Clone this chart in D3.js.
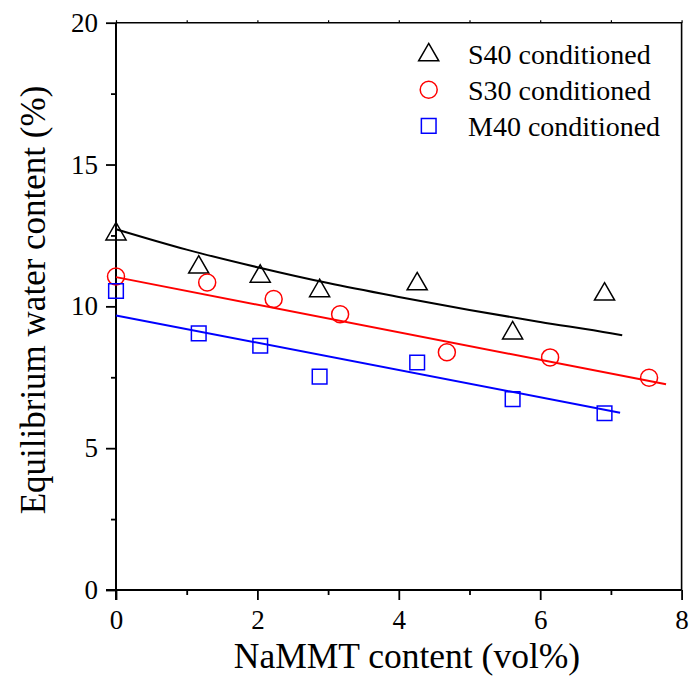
<!DOCTYPE html>
<html>
<head>
<meta charset="utf-8">
<script src="https://cdn.jsdelivr.net/npm/d3@7"></script>
<style>
 body { margin:0; background:#fff; }
 text { font-family: "Liberation Serif", "Times New Roman", serif; fill:#000; }
</style>
</head>
<body>
<div id="chart"></div>
<script>
// measured points
var s40X = [0, 1.17, 2.04, 2.88, 4.26, 5.61, 6.91];
var s40Y = [12.6, 11.43, 11.11, 10.6, 10.84, 9.11, 10.48];
var s30X = [0, 1.29, 2.23, 3.17, 4.68, 6.14, 7.54];
var s30Y = [11.05, 10.84, 10.26, 9.72, 8.38, 8.2, 7.48];
var m40X = [0, 1.17, 2.04, 2.88, 4.26, 5.61, 6.91];
var m40Y = [10.54, 9.05, 8.61, 7.52, 8.02, 6.73, 6.23];

// fitted lines
var s40FitX = [0, 1, 2, 3, 4, 5, 6, 7, 7.16];
var s40FitY = [12.72, 12.0, 11.38, 10.82, 10.33, 9.87, 9.45, 9.05, 8.98];
var s30FitX = [0, 7.78];
var s30FitY = [11.03, 7.25];
var m40FitX = [0, 7.13];
var m40FitY = [9.68, 6.25];

var legendNames = ["S40 conditioned", "S30 conditioned", "M40 conditioned"];
var xTicks = [0, 2, 4, 6, 8];
var xMinor = [1, 3, 5, 7];
var yTicks = [0, 5, 10, 15, 20];
var yMinor = [2.5, 7.5, 12.5, 17.5];

var width = 691, height = 678;
var pLeft = 116, pTop = 22.7, pRight = 681.6, pBottom = 590;

var svg = d3.select('#chart').append('svg')
  .attr('width', width)
  .attr('height', height);

var x = d3.scaleLinear().domain([0, 8]).range([pLeft, pRight]);
var y = d3.scaleLinear().domain([0, 20]).range([pBottom, pTop]);

function styleAxis(g, w){
  g.attr('font-size', null).attr('font-family', null);
  g.select('.domain').remove();
  g.selectAll('line').attr('stroke-width', w);
  g.selectAll('text').style('font-size', '27px').style('font-family', '"Liberation Serif", serif');
}

// frame top / right
svg.append('path')
  .attr('d', 'M' + pLeft + ',' + pTop + 'H' + pRight + 'V' + pBottom)
  .attr('fill', 'none').attr('stroke', '#000').attr('stroke-width', 1.6);

// tiny ticks on the top
svg.append('g').attr('transform', 'translate(0,' + pTop + ')')
  .call(d3.axisTop(x).tickValues(d3.merge([xTicks, xMinor])).tickSize(2.5).tickFormat(''))
  .call(styleAxis, 1.2);

// x axis
svg.append('g').attr('transform', 'translate(0,' + pBottom + ')')
  .call(d3.axisBottom(x).tickValues(xMinor).tickSize(5).tickFormat(''))
  .call(styleAxis, 1.8);
svg.append('g').attr('transform', 'translate(0,' + pBottom + ')')
  .call(d3.axisBottom(x).tickValues(xTicks).tickSize(10).tickFormat(d3.format('d')))
  .call(styleAxis, 1.8)
  .call(function(g){ g.selectAll('text').attr('y', 39).attr('dy', null); });
svg.append('line')
  .attr('x1', pLeft - 10).attr('x2', pRight).attr('y1', pBottom).attr('y2', pBottom)
  .attr('stroke', '#000').attr('stroke-width', 2);

// y axis
svg.append('g').attr('transform', 'translate(' + pLeft + ',0)')
  .call(d3.axisLeft(y).tickValues(yMinor).tickSize(5).tickFormat(''))
  .call(styleAxis, 1.8);
svg.append('g').attr('transform', 'translate(' + pLeft + ',0)')
  .call(d3.axisLeft(y).tickValues(yTicks).tickSize(10).tickPadding(8).tickFormat(d3.format('d')))
  .call(styleAxis, 1.8);
svg.append('line')
  .attr('x1', pLeft).attr('x2', pLeft).attr('y1', pTop).attr('y2', pBottom + 10)
  .attr('stroke', '#000').attr('stroke-width', 2);

// axis titles
svg.append('text')
  .attr('x', 407).attr('y', 668)
  .attr('text-anchor', 'middle')
  .style('font-size', '35.5px')
  .text('NaMMT content (vol%)');

svg.append('text')
  .attr('transform', 'translate(45,300) rotate(-90)')
  .attr('text-anchor', 'middle')
  .style('font-size', '35px')
  .text('Equilibrium water content (%)');

// fit lines
var line = d3.line().x(function(d){ return x(d[0]); }).y(function(d){ return y(d[1]); }).curve(d3.curveMonotoneX);
var fits = [
  {xs: s40FitX, ys: s40FitY, color: '#000000'},
  {xs: s30FitX, ys: s30FitY, color: '#ff0000'},
  {xs: m40FitX, ys: m40FitY, color: '#0000ff'}
];
fits.forEach(function(f){
  svg.append('path')
    .attr('d', line(d3.zip(f.xs, f.ys)))
    .attr('fill', 'none').attr('stroke', f.color).attr('stroke-width', 2);
});

// markers
var series = [
  {xs: s40X, ys: s40Y, color: '#000000', sym: d3.symbolTriangle, size: 175, dy: 1.5},
  {xs: s30X, ys: s30Y, color: '#ff0000', sym: d3.symbolCircle, size: 227, dy: 0},
  {xs: m40X, ys: m40Y, color: '#0000ff', sym: d3.symbolSquare, size: 215, dy: 0}
];
series.forEach(function(s){
  svg.append('g').selectAll('path')
    .data(d3.zip(s.xs, s.ys))
    .enter().append('path')
    .attr('d', d3.symbol().type(s.sym).size(s.size))
    .attr('transform', function(d){ return 'translate(' + x(d[0]) + ',' + (y(d[1]) + s.dy) + ')'; })
    .attr('fill', 'none').attr('stroke', s.color).attr('stroke-width', 1.5);
});

// legend
var lg = svg.append('g');
series.forEach(function(s, i){
  var yy = 53.5 + i * 36.2;
  lg.append('path')
    .attr('d', d3.symbol().type(s.sym).size(s.size))
    .attr('transform', 'translate(428.7,' + (yy + s.dy) + ')')
    .attr('fill', 'none').attr('stroke', s.color).attr('stroke-width', 1.5);
  lg.append('text')
    .attr('x', 468).attr('y', yy + 10)
    .style('font-size', '28px')
    .text(legendNames[i]);
});
</script>
</body>
</html>
